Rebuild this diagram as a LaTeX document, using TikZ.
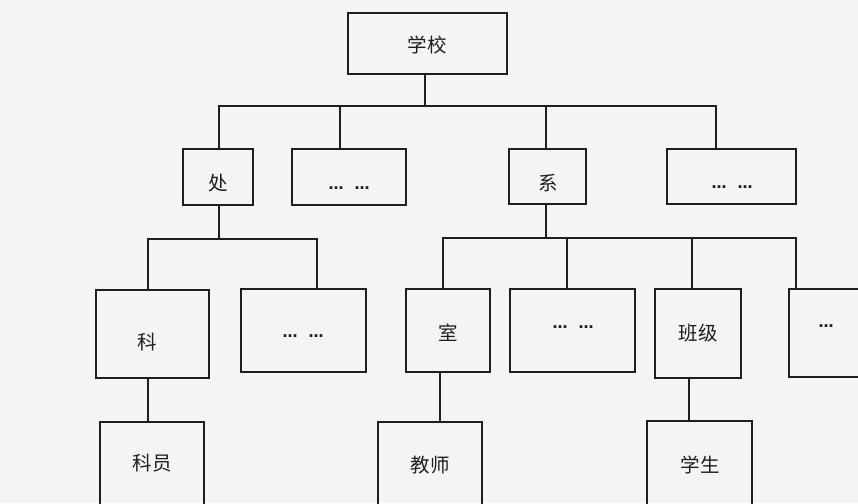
\documentclass[tikz,border=0pt]{standalone}
\usepackage{fontspec}
\setmainfont{Liberation Sans}
\newfontfamily\cjk{Noto Sans CJK SC}
\newfontfamily\dotfont{DejaVu Sans}
\definecolor{ink}{RGB}{30,30,30}
\definecolor{paper}{RGB}{244,244,242}
\begin{document}
\begin{tikzpicture}[x=1pt,y=-1pt,
  box/.style={draw=ink, line width=2.8pt, rectangle, inner sep=0pt, outer sep=0pt},
  lab/.style={font=\cjk\fontsize{19.5}{19.5}\selectfont, text=ink, inner sep=0pt},
  dts/.style={font=\dotfont\bfseries\fontsize{15}{15}\selectfont, text=ink, inner sep=0pt, anchor=base},
  conn/.style={draw=ink, line width=2.8pt, line join=miter}]
\useasboundingbox (0,0) rectangle (858,503);
\clip (0,0) rectangle (858,503);
\fill[paper] (0,0) rectangle (858,503);

% boxes
\node[box, minimum width=159pt, minimum height=61pt] (school) at (427.5,43.5) {};
\node[box, minimum width=70pt,  minimum height=56pt] (chu)    at (218,177) {};
\node[box, minimum width=114pt, minimum height=56pt] (dA)     at (349,177) {};
\node[box, minimum width=77pt,  minimum height=55pt] (xi)     at (547.5,176.5) {};
\node[box, minimum width=129pt, minimum height=55pt] (dB)     at (731.5,176.5) {};
\node[box, minimum width=113pt, minimum height=88pt] (ke)     at (152.5,334) {};
\node[box, minimum width=125pt, minimum height=83pt] (dC)     at (303.5,330.5) {};
\node[box, minimum width=84pt,  minimum height=83pt] (shi)    at (448,330.5) {};
\node[box, minimum width=125pt, minimum height=83pt] (dD)     at (572.5,330.5) {};
\node[box, minimum width=86pt,  minimum height=89pt] (banji)  at (698,333.5) {};
\node[box, minimum width=91pt,  minimum height=88pt] (dE)     at (834.5,333) {};
\node[box, minimum width=104pt, minimum height=138pt] (keyuan)   at (152,491) {};
\node[box, minimum width=104pt, minimum height=138pt] (jiaoshi)  at (430,491) {};
\node[box, minimum width=105pt, minimum height=139pt] (xuesheng) at (699.5,490.5) {};

% labels
\node[lab] (tschool) at (427,45) {学校};
\node[lab] (tchu) at (218,183) {处};
\node[lab] (txi) at (548,183) {系};
\node[lab] (tke) at (147,342) {科};
\node[lab] (tshi) at (448,333) {室};
\node[lab] (tbanji) at (698,333) {班级};
\node[lab] (tkeyuan) at (152,463) {科员};
\node[lab] (tjiaoshi) at (430,465) {教师};
\node[lab] (txuesheng) at (700,465) {学生};
\node[dts] (tdA) at (349,189) {…\hspace{11pt}…};
\node[dts] (tdB) at (732,188) {…\hspace{11pt}…};
\node[dts] (tdC) at (303,337) {…\hspace{11pt}…};
\node[dts] (tdD) at (573,328) {…\hspace{11pt}…};
\node[dts] (tdE) at (826,327) {…};

% junction coordinates
\coordinate (s0) at (425,106);
\coordinate (s1) at (219,106);
\coordinate (s2) at (340,106);
\coordinate (s3) at (546,106);
\coordinate (s4) at (716,106);
\coordinate (c1) at (148,239);
\coordinate (c2) at (317,239);
\coordinate (r1) at (443,238);
\coordinate (r2) at (567,238);
\coordinate (r3) at (692,238);
\coordinate (r4) at (796,238);
\coordinate (k1) at (440,0);
\coordinate (k2) at (689,0);

% connectors
\draw[conn] (s0 |- school.south) -- (s0);
\draw[conn] (s1 |- chu.north) -- (s1) -- (s4) -- (s4 |- dB.north);
\draw[conn] (s2) -- (s2 |- dA.north);
\draw[conn] (s3) -- (s3 |- xi.north);

\draw[conn] (s1 |- chu.south) -- (s1 |- c1);
\draw[conn] (c1 |- ke.north) -- (c1) -- (c2) -- (c2 |- dC.north);

\draw[conn] (s3 |- xi.south) -- (s3 |- r1);
\draw[conn] (r1 |- shi.north) -- (r1) -- (r4) -- (r4 |- dE.north);
\draw[conn] (r2) -- (r2 |- dD.north);
\draw[conn] (r3) -- (r3 |- banji.north);

\draw[conn] (c1 |- ke.south) -- (c1 |- keyuan.north);
\draw[conn] (k1 |- shi.south) -- (k1 |- jiaoshi.north);
\draw[conn] (k2 |- banji.south) -- (k2 |- xuesheng.north);
\end{tikzpicture}
\end{document}
